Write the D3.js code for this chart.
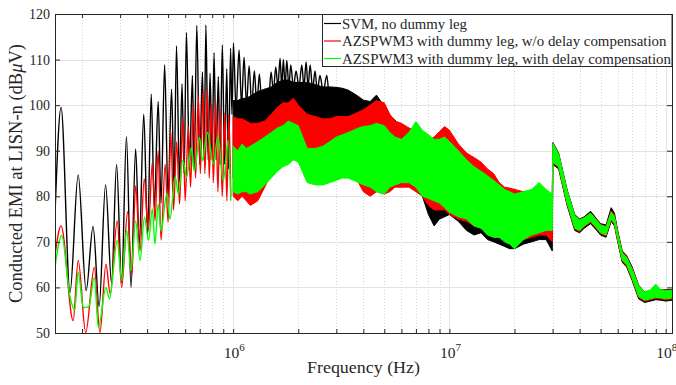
<!DOCTYPE html>
<html>
<head>
<meta charset="utf-8">
<title>Conducted EMI spectrum</title>
<script src="https://cdnjs.cloudflare.com/ajax/libs/d3/7.8.5/d3.min.js"></script>
<style>
  body { margin: 0; background: #fff; }
  text { font-family: "Liberation Serif", "Times New Roman", serif; fill: #262626; }
</style>
</head>
<body>
<div id="chart"></div>
<script>
// series labels and colours
const seriesNames = [
  "SVM, no dummy leg",
  "AZSPWM3 with dummy leg, w/o delay compensation",
  "AZSPWM3 with dummy leg, with delay compensation"
];
const seriesColors = ["#000000", "#ff0000", "#00ff00"];

// axis ticks
const yTicks = [50, 60, 70, 80, 90, 100, 110, 120];
const xTickExps = [6, 7, 8];

// resolved harmonics at the low end (freq in MHz, level in dBuV)
const svmFreq = [0.150, 0.160, 0.176, 0.192, 0.209, 0.225, 0.240, 0.257, 0.274, 0.289, 0.305, 0.321, 0.337, 0.354, 0.368, 0.386, 0.402, 0.418, 0.432, 0.450, 0.464, 0.482, 0.500, 0.519, 0.533, 0.547, 0.565, 0.580, 0.593, 0.608, 0.628, 0.648, 0.660, 0.679, 0.700, 0.721, 0.734, 0.748, 0.766, 0.782, 0.799, 0.816, 0.834, 0.854, 0.870, 0.891, 0.913, 0.934, 0.952, 0.973, 0.987, 1.003, 1.031, 1.065, 1.093, 1.123, 1.153, 1.185, 1.219, 1.253, 1.287, 1.322, 1.357, 1.394, 1.420, 1.460, 1.497, 1.535, 1.574, 1.610, 1.648, 1.677, 1.707, 1.738, 1.770, 1.810, 1.846, 1.900, 1.954, 2.015, 2.077, 2.125, 2.174, 2.220, 2.270, 2.330, 2.392, 2.450, 2.520, 2.610, 2.710, 2.760];
const svmLevel = [76, 99.5, 58.9, 84.7, 59.3, 73.4, 55.8, 82.5, 60.9, 87.0, 61.0, 93.1, 60.0, 90.4, 69.5, 98.0, 71.7, 102.4, 77.5, 100.8, 78.5, 108.8, 80.0, 103.5, 82.0, 113.0, 83.0, 104.7, 85.0, 115.9, 86.0, 106.5, 86.0, 117.5, 87.0, 107.3, 88.0, 117.6, 88.0, 107.0, 88.0, 111.5, 88.0, 106.3, 87.0, 113.2, 87.0, 108.0, 86.0, 112.5, 98.0, 113.6, 99.0, 112.1, 100.0, 110.5, 100.0, 108.6, 100.0, 107.5, 100.0, 106.8, 100.0, 103.5, 100.0, 101.0, 107.3, 103.0, 108.4, 104.0, 110.3, 104.0, 110.0, 104.0, 109.8, 104.0, 108.8, 104.0, 107.5, 104.0, 108.8, 104.0, 109.5, 104.0, 108.8, 103.5, 107.5, 103.0, 106.5, 103.0, 106.5, 103.0];

const nodcFreq = [0.150, 0.160, 0.182, 0.192, 0.208, 0.228, 0.242, 0.258, 0.270, 0.291, 0.305, 0.325, 0.340, 0.354, 0.371, 0.388, 0.405, 0.423, 0.435, 0.450, 0.464, 0.485, 0.500, 0.515, 0.530, 0.548, 0.565, 0.585, 0.600, 0.620, 0.635, 0.655, 0.670, 0.690, 0.705, 0.725, 0.740, 0.760, 0.775, 0.795, 0.810, 0.830, 0.850, 0.870, 0.890, 0.915, 0.935, 0.955, 0.975];
const nodcLevel = [67, 73.5, 52.7, 65.9, 50.1, 64.4, 50.1, 65.1, 58.6, 74.6, 60.0, 76.6, 62.9, 82.3, 68.0, 83.8, 72.4, 87.4, 74.6, 90.0, 70.4, 87.0, 74.3, 94.0, 77.0, 92.0, 78.3, 97.3, 79.0, 95.5, 82.0, 100.0, 84.0, 102.0, 85.0, 103.0, 85.0, 103.5, 84.0, 100.2, 83.0, 101.0, 81.0, 99.0, 80.0, 98.3, 79.0, 98.0, 80.0];

const dcFreq = [0.150, 0.161, 0.176, 0.185, 0.192, 0.203, 0.215, 0.228, 0.238, 0.258, 0.268, 0.291, 0.305, 0.322, 0.337, 0.354, 0.371, 0.389, 0.406, 0.423, 0.435, 0.450, 0.464, 0.493, 0.510, 0.540, 0.558, 0.585, 0.610, 0.640, 0.660, 0.700, 0.720, 0.760, 0.810, 0.850, 0.900, 0.950, 0.975];
const dcLevel = [64.4, 71.4, 58.0, 55.0, 63.3, 55.6, 55.8, 62.2, 51.2, 60.0, 57.5, 70.3, 61.5, 72.5, 63.7, 74.6, 65.9, 75.4, 70.3, 77.2, 69.5, 78.3, 72.4, 80.5, 75.0, 84.2, 80.5, 87.8, 84.2, 90.7, 85.6, 92.9, 87.8, 94.0, 87.1, 93.3, 83.4, 92.2, 79.0];

// dense part above 1 MHz, read as upper / lower envelope (freq in MHz)
const bandFreq = [1.0, 1.05, 1.1, 1.15, 1.2, 1.3, 1.4, 1.5, 1.6, 1.7, 1.8, 1.9, 2.0, 2.2, 2.4, 2.6, 2.8, 3.0, 3.2, 3.4, 3.6, 3.8, 4.0, 4.3, 4.6, 5.0, 5.3, 5.6, 6.0, 6.5, 7.0, 7.5, 8.0, 8.5, 9.0, 9.5, 10, 11, 12, 13, 14, 15, 16, 17, 18, 19, 20, 22, 24, 26, 28, 29.9, 30.1, 32, 35, 38, 40, 42, 45, 48, 50, 53, 56, 58, 60, 63, 66, 70, 75, 80, 85, 90, 95, 100, 107];

const svmHi = [101.0, 101.0, 101.5, 101.5, 102.0, 103.0, 103.5, 104.0, 105.0, 105.5, 105.5, 105.0, 105.0, 105.0, 104.5, 104.0, 104.0, 103.9, 103.7, 103.3, 102.6, 101.9, 101.1, 100.8, 102.2, 99.7, 97.8, 96.7, 95.3, 94.2, 93.4, 92.4, 90.9, 89.7, 90.9, 91.5, 91.5, 90.0, 88.0, 86.5, 85.5, 84.5, 83.5, 82.5, 81.5, 81.5, 81.5, 80.5, 80.5, 80.5, 80.0, 79.5,
  91.8, 89.5, 81.5, 76.0, 75.0, 75.5, 76.7, 75.0, 74.0, 73.7, 77.5, 76.3, 72.5, 68.0, 67.0, 64.5, 60.5, 59.0, 59.3, 60.0, 59.5, 59.5, 59.5];
const svmLo = [84, 85, 85, 86, 86, 87, 88, 88, 88, 89, 89, 89, 89, 90, 90, 90, 90, 90, 90, 89, 88, 86, 85, 84, 84, 84, 84, 84, 84, 84, 82, 80, 76, 73.5, 75, 75.5, 76, 74.5, 72.5, 71.5, 72, 70.5, 70, 69.5, 69, 68.5, 68.5, 69.5, 70, 70.5, 70.5, 68,
  87.0, 86.0, 78.0, 72.5, 72.0, 73.0, 74.0, 72.5, 71.5, 71.0, 74.5, 73.5, 70.0, 65.5, 64.5, 61.5, 57.5, 56.7, 57.0, 57.3, 57.2, 57.0, 57.2];

const nodcHi = [97.5, 97, 97, 96.5, 96, 96, 96.5, 98, 99.5, 100.5, 100.5, 101.5, 100, 98, 97.5, 97, 97, 97.5, 97.5, 97.5, 98, 98.5, 99, 100, 101, 100.5, 98, 96.5, 96, 95, 94.5, 94.2, 92.4, 93, 94.2, 95.3, 94.5, 91.5, 89.5, 88.5, 87.5, 86, 85, 83, 82, 81.8, 81.5, 81, 81, 81, 80.5, 80,
  91.5, 89.2, 81.2, 75.8, 74.8, 75.3, 76.3, 74.8, 73.8, 73.4, 76.8, 75.8, 72.2, 67.8, 66.8, 64.2, 60.3, 58.9, 59.2, 59.8, 59.4, 59.4, 59.4];
const nodcLo = [80, 79, 80, 79, 78, 79, 82, 85, 87, 88, 88, 88, 88, 88, 88, 88, 88, 88, 88, 87, 86, 83, 81, 80, 81, 80.5, 81, 82, 82, 82, 81, 80, 78, 77, 77, 77, 76, 75, 74.5, 73.5, 73, 72, 71, 71, 70.5, 70, 70, 70.5, 71, 71.5, 71.5, 70,
  87.3, 86.3, 78.3, 72.8, 72.3, 73.3, 74.3, 72.8, 71.8, 71.3, 74.8, 73.8, 70.3, 65.8, 64.8, 61.8, 57.8, 57.0, 57.3, 57.6, 57.5, 57.3, 57.5];

const dcHi = [91, 90, 91.5, 90.5, 91, 92, 93, 94, 95, 95.5, 96.5, 96, 95.5, 90.5, 90.5, 91, 92, 93, 93.5, 94, 94.5, 95, 95.3, 95.5, 96, 95.5, 94, 93, 92.5, 94, 96.4, 94.5, 93.5, 92.5, 92.5, 93, 92, 90, 88, 86.5, 85.5, 84.5, 83.5, 82.5, 81.5, 81, 80.5, 81, 81.5, 83, 81.5, 80.5,
  91.6, 89.3, 81.3, 75.8, 74.8, 75.3, 76.3, 74.7, 73.7, 73.3, 76.5, 75.6, 72.0, 67.6, 66.6, 64.0, 60.3, 59.0, 59.5, 60.7, 59.5, 59.3, 59.3];
const dcLo = [81, 80.5, 81, 81, 80.5, 81, 82.5, 84, 85.5, 86.5, 87, 88, 87.5, 83, 82.5, 82.5, 83, 83.5, 84, 84, 83.5, 83, 82.5, 82, 81, 80.5, 82, 82.5, 83, 83, 82, 80, 79.5, 79, 78.5, 77.5, 76.5, 75.5, 75, 73.5, 73, 71.5, 71, 71, 70, 69.5, 68.5, 70.5, 71.5, 72, 72.5, 72.5,
  87.5, 86.5, 78.5, 73.0, 72.5, 73.5, 74.5, 73.0, 72.0, 71.5, 75.0, 74.0, 70.5, 66.0, 65.0, 62.0, 58.0, 57.2, 57.5, 57.8, 57.7, 57.5, 57.7];

const series = [
  { line: d3.zip(svmFreq, svmLevel), band: d3.zip(bandFreq, svmLo, svmHi) },
  { line: d3.zip(nodcFreq, nodcLevel), band: d3.zip(bandFreq, nodcLo, nodcHi) },
  { line: d3.zip(dcFreq, dcLevel), band: d3.zip(bandFreq, dcLo, dcHi) }
];

// layout
const width = 676, height = 385;
const plot = { left: 55, right: 672, top: 14, bottom: 333 };
const axisColor = "#262626";

const svg = d3.select("#chart").append("svg")
  .attr("width", width)
  .attr("height", height)
  .style("display", "block");

svg.append("rect").attr("width", width).attr("height", height).attr("fill", "#fff");

const x = d3.scaleLog().domain([1.5e5, 1.07e8]).range([plot.left, plot.right]);
const y = d3.scaleLinear().domain([50, 120]).range([plot.bottom, plot.top]);

// grid: minor dotted, major solid
const minorX = [];
[1e5, 1e6, 1e7].forEach(dec => {
  for (let k = 2; k <= 9; k++) {
    const v = k * dec;
    if (v > 1.5e5 && v < 1.07e8) minorX.push(v);
  }
});
const majorX = xTickExps.map(e => Math.pow(10, e));

const grid = svg.append("g");
grid.selectAll(".gx-minor").data(minorX).enter().append("line")
  .attr("x1", d => Math.round(x(d)) + 0.5).attr("x2", d => Math.round(x(d)) + 0.5)
  .attr("y1", plot.top).attr("y2", plot.bottom)
  .attr("stroke", "#d4d4d4").attr("stroke-dasharray", "1,2");
grid.selectAll(".gx-major").data(majorX).enter().append("line")
  .attr("x1", d => Math.round(x(d)) + 0.5).attr("x2", d => Math.round(x(d)) + 0.5)
  .attr("y1", plot.top).attr("y2", plot.bottom)
  .attr("stroke", "#e3e3e3");
grid.selectAll(".gy").data(yTicks.slice(1, -1)).enter().append("line")
  .attr("x1", plot.left).attr("x2", plot.right)
  .attr("y1", d => Math.round(y(d)) + 0.5).attr("y2", d => Math.round(y(d)) + 0.5)
  .attr("stroke", "#e3e3e3");

// data
svg.append("clipPath").attr("id", "clip").append("rect")
  .attr("x", plot.left).attr("y", plot.top)
  .attr("width", plot.right - plot.left).attr("height", plot.bottom - plot.top);

const lineGen = d3.line()
  .x(d => x(d[0] * 1e6))
  .y(d => y(d[1]))
  .curve(d3.curveMonotoneX);

const bandGen = d3.area()
  .x(d => x(d[0] * 1e6))
  .y0(d => y(d[1]))
  .y1(d => y(d[2]));

const dataG = svg.append("g").attr("clip-path", "url(#clip)");
series.forEach((s, i) => {
  dataG.append("path")
    .attr("d", lineGen(s.line))
    .attr("fill", "none")
    .attr("stroke", seriesColors[i])
    .attr("stroke-width", 1.4);
  dataG.append("path")
    .attr("d", bandGen(s.band))
    .attr("fill", seriesColors[i])
    .attr("stroke", seriesColors[i])
    .attr("stroke-width", 1)
    .attr("stroke-linejoin", "round");
});

// axes (ticks point inwards)
const allX = majorX.concat(minorX);
function styleAxis(g) {
  g.select(".domain").remove();
  g.attr("color", axisColor);
}
svg.append("g").attr("transform", `translate(0,${plot.bottom})`)
  .call(d3.axisBottom(x).tickValues(allX).tickSizeInner(-4).tickSizeOuter(0).tickFormat(""))
  .call(styleAxis);
svg.append("g").attr("transform", `translate(0,${plot.top})`)
  .call(d3.axisTop(x).tickValues(allX).tickSizeInner(-4).tickSizeOuter(0).tickFormat(""))
  .call(styleAxis);
const yAxisG = svg.append("g").attr("transform", `translate(${plot.left},0)`)
  .call(d3.axisLeft(y).tickValues(yTicks).tickSizeInner(-5).tickSizeOuter(0).tickPadding(5))
  .call(styleAxis);
yAxisG.selectAll("text")
  .attr("font-family", null)
  .style("font-size", "14px")
  .attr("fill", axisColor);
svg.append("g").attr("transform", `translate(${plot.right},0)`)
  .call(d3.axisRight(y).tickValues(yTicks).tickSizeInner(-5).tickSizeOuter(0).tickFormat(""))
  .call(styleAxis);

svg.append("rect")
  .attr("x", plot.left + 0.5).attr("y", plot.top + 0.5)
  .attr("width", plot.right - plot.left).attr("height", plot.bottom - plot.top)
  .attr("fill", "none").attr("stroke", axisColor).attr("stroke-width", 1);

// x tick labels 10^n
xTickExps.forEach(e => {
  const t = svg.append("text")
    .attr("x", x(Math.pow(10, e)) + 1)
    .attr("y", 358)
    .attr("text-anchor", "middle")
    .style("font-size", "15.5px");
  t.append("tspan").text("10");
  t.append("tspan").attr("dy", -7).style("font-size", "11px").text(e);
});

// axis titles
svg.append("text")
  .attr("x", (plot.left + plot.right) / 2)
  .attr("y", 372.5)
  .attr("text-anchor", "middle")
  .attr("textLength", 113)
  .attr("lengthAdjust", "spacingAndGlyphs")
  .style("font-size", "16px")
  .text("Frequency (Hz)");

const yTitle = svg.append("text")
  .attr("transform", `translate(21.5,${(plot.top + plot.bottom) / 2}) rotate(-90)`)
  .attr("text-anchor", "middle")
  .attr("textLength", 259)
  .attr("lengthAdjust", "spacingAndGlyphs")
  .style("font-size", "18.5px");
yTitle.append("tspan").text("Conducted EMI at LISN-n (dB");
yTitle.append("tspan").style("font-style", "italic").text("\u03bc");
yTitle.append("tspan").text("V)");

// legend
const legendWidths = [125, 324.5, 329];
const legend = svg.append("g");
legend.append("rect")
  .attr("x", 322.5).attr("y", 14.5)
  .attr("width", plot.right - 322.5).attr("height", 52)
  .attr("fill", "#fff").attr("stroke", axisColor);
seriesNames.forEach((name, i) => {
  const cy = 23.5 + i * 17.5;
  legend.append("line")
    .attr("x1", 324).attr("x2", 341)
    .attr("y1", cy).attr("y2", cy)
    .attr("stroke", seriesColors[i]).attr("stroke-width", 1.2);
  legend.append("text")
    .attr("x", 342).attr("y", cy + 5)
    .attr("textLength", legendWidths[i])
    .attr("lengthAdjust", "spacingAndGlyphs")
    .style("font-size", "15px")
    .text(name);
});
</script>
</body>
</html>
